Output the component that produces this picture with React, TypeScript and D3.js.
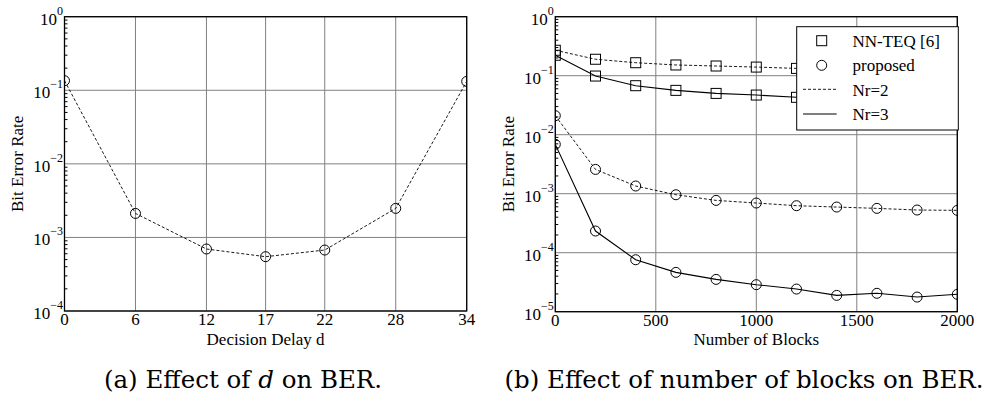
import * as d3 from "d3";

// (a) BER vs decision delay
const delays = [0, 6, 12, 17, 22, 28, 34];
const berDelay = [0.135, 2.12e-3, 6.96e-4, 5.47e-4, 6.74e-4, 2.48e-3, 0.132];

// (b) BER vs number of blocks
const blocks = [0, 200, 400, 600, 800, 1000, 1200, 1400, 1600, 1800, 2000];
const nnteqNr2 = [0.27, 0.19, 0.166, 0.152, 0.146, 0.14, 0.133, 0.13, 0.128, 0.126, 0.123];
const nnteqNr3 = [0.222, 0.0987, 0.0677, 0.0564, 0.0501, 0.047, 0.043, 0.041, 0.039, 0.038, 0.0367];
const proposedNr2 = [0.021, 2.58e-3, 1.35e-3, 9.6e-4, 7.7e-4, 6.95e-4, 6.26e-4, 5.94e-4, 5.64e-4, 5.29e-4, 5.22e-4];
const proposedNr3 = [6.86e-3, 2.33e-4, 7.6e-5, 4.64e-5, 3.53e-5, 2.87e-5, 2.42e-5, 1.89e-5, 2.05e-5, 1.77e-5, 1.97e-5];

const blockTicks = [0, 500, 1000, 1500, 2000];
const legendLabels = ["NN-TEQ [6]", "proposed", "Nr=2", "Nr=3"];

const FONT = "'Liberation Serif', 'Times New Roman', serif";
const CAPTION_FONT = "'DejaVu Serif', serif";
const GRID = "#808080";
const DASH = "3,2";

function LogAxisLabels({ y, exps, x }) {
  return (
    <g fontFamily={FONT} fill="#000">
      {exps.map((e) => (
        <text key={e} x={x} y={y(Math.pow(10, e)) + 8} textAnchor="end" fontSize={17}>
          10
          <tspan dy={-10} fontSize={12}>
            {e === 0 ? "0" : "\u2212" + Math.abs(e)}
          </tspan>
        </text>
      ))}
    </g>
  );
}

function MinorTicks({ y, x, lo, hi }) {
  const ticks = [];
  for (let e = lo; e < hi; e++) {
    for (let m = 2; m <= 9; m++) ticks.push(m * Math.pow(10, e));
  }
  return (
    <g stroke="#000" strokeWidth={1}>
      {ticks.map((t, i) => (
        <line key={i} x1={x} x2={x + 3} y1={y(t)} y2={y(t)} />
      ))}
    </g>
  );
}

function Square({ cx, cy }) {
  return <rect x={cx - 5} y={cy - 5} width={10} height={10} fill="none" stroke="#000" strokeWidth={1} />;
}

function Circle({ cx, cy }) {
  return <circle cx={cx} cy={cy} r={5} fill="none" stroke="#000" strokeWidth={1} />;
}

function ChartA() {
  const x = d3.scaleLinear().domain([0, 34]).range([64.5, 466.7]);
  const y = d3.scaleLog().domain([1e-4, 1]).range([311, 16.7]);
  const [x0, x1] = x.range();
  const [yb, yt] = y.range();
  const line = d3
    .line<number>()
    .x((_, i) => x(delays[i]))
    .y((d) => y(d));
  const exps = [0, -1, -2, -3, -4];
  return (
    <g>
      <defs>
        <clipPath id="clipA">
          <rect x={x0} y={yt} width={x1 - x0} height={yb - yt} />
        </clipPath>
      </defs>
      <g stroke={GRID} strokeWidth={1}>
        {delays.map((d) => (
          <line key={d} x1={x(d)} x2={x(d)} y1={yt} y2={yb} />
        ))}
        {exps.map((e) => (
          <line key={e} x1={x0} x2={x1} y1={y(Math.pow(10, e))} y2={y(Math.pow(10, e))} />
        ))}
      </g>
      <MinorTicks y={y} x={x0} lo={-4} hi={0} />
      <g clipPath="url(#clipA)">
        <path d={line(berDelay) || ""} fill="none" stroke="#000" strokeWidth={0.9} strokeDasharray={DASH} />
        {berDelay.map((v, i) => (
          <Circle key={i} cx={x(delays[i])} cy={y(v)} />
        ))}
      </g>
      <rect x={x0} y={yt} width={x1 - x0} height={yb - yt} fill="none" stroke="#000" strokeWidth={1.3} />
      <g fontFamily={FONT} fontSize={17} textAnchor="middle">
        {delays.map((d) => (
          <text key={d} x={x(d)} y={yb + 14}>
            {d}
          </text>
        ))}
        <text x={(x0 + x1) / 2} y={345}>Decision Delay d</text>
        <text transform={`translate(23,${(yt + yb) / 2}) rotate(-90)`}>Bit Error Rate</text>
      </g>
      <LogAxisLabels y={y} exps={exps} x={x0 - 1.5} />
      <text x={243} y={388} textAnchor="middle" fontFamily={CAPTION_FONT} fontSize={24.5}>
        (a) Effect of <tspan fontStyle="italic">d</tspan> on BER.
      </text>
    </g>
  );
}

function ChartB() {
  const x = d3.scaleLinear().domain([0, 2000]).range([555.3, 957.3]);
  const y = d3.scaleLog().domain([1e-5, 1]).range([311.7, 16.7]);
  const [x0, x1] = x.range();
  const [yb, yt] = y.range();
  const line = d3
    .line<number>()
    .x((_, i) => x(blocks[i]))
    .y((d) => y(d));
  const exps = [0, -1, -2, -3, -4, -5];
  const series = [
    { values: nnteqNr2, dash: true, marker: Square },
    { values: nnteqNr3, dash: false, marker: Square },
    { values: proposedNr2, dash: true, marker: Circle },
    { values: proposedNr3, dash: false, marker: Circle },
  ];
  const lx = 796.7;
  const ly = 26.7;
  return (
    <g>
      <defs>
        <clipPath id="clipB">
          <rect x={x0} y={yt} width={x1 - x0} height={yb - yt} />
        </clipPath>
      </defs>
      <g stroke={GRID} strokeWidth={1}>
        {blockTicks.map((d) => (
          <line key={d} x1={x(d)} x2={x(d)} y1={yt} y2={yb} />
        ))}
        {exps.map((e) => (
          <line key={e} x1={x0} x2={x1} y1={y(Math.pow(10, e))} y2={y(Math.pow(10, e))} />
        ))}
      </g>
      <MinorTicks y={y} x={x0} lo={-5} hi={0} />
      <g clipPath="url(#clipB)">
        {series.map((s, k) => (
          <g key={k}>
            <path
              d={line(s.values) || ""}
              fill="none"
              stroke="#000"
              strokeWidth={s.dash ? 0.9 : 1.1}
              strokeDasharray={s.dash ? DASH : undefined}
            />
            {s.values.map((v, i) => (
              <s.marker key={i} cx={x(blocks[i])} cy={y(v)} />
            ))}
          </g>
        ))}
      </g>
      <rect x={x0} y={yt} width={x1 - x0} height={yb - yt} fill="none" stroke="#000" strokeWidth={1.3} />
      <g>
        <rect x={lx} y={ly} width={x1 - lx + 1} height={103.3} fill="#fff" stroke="#000" strokeWidth={1} />
        <Square cx={821.7} cy={40.7} />
        <Circle cx={821.7} cy={65.3} />
        <line x1={803} x2={836.7} y1={89.3} y2={89.3} stroke="#000" strokeWidth={0.9} strokeDasharray={DASH} />
        <line x1={803} x2={836.7} y1={114} y2={114} stroke="#000" strokeWidth={1.1} />
        <g fontFamily={FONT} fontSize={17}>
          {legendLabels.map((l, i) => (
            <text key={l} x={852.5} y={46.5 + i * 24.5}>
              {l}
            </text>
          ))}
        </g>
      </g>
      <g fontFamily={FONT} fontSize={17} textAnchor="middle">
        {blockTicks.map((d) => (
          <text key={d} x={x(d)} y={yb + 14}>
            {d}
          </text>
        ))}
        <text x={(x0 + x1) / 2} y={345}>Number of Blocks</text>
        <text transform={`translate(514,${(yt + yb) / 2}) rotate(-90)`}>Bit Error Rate</text>
      </g>
      <LogAxisLabels y={y} exps={exps} x={x0 - 1.5} />
      <text x={744} y={388} textAnchor="middle" fontFamily={CAPTION_FONT} fontSize={24.5}>
        (b) Effect of number of blocks on BER.
      </text>
    </g>
  );
}

export default function App() {
  return (
    <svg
      width={987}
      height={401}
      style={{ position: "absolute", left: 0, top: 0, background: "#fff" }}
    >
      <rect width={987} height={401} fill="#fff" />
      <ChartA />
      <ChartB />
    </svg>
  );
}
